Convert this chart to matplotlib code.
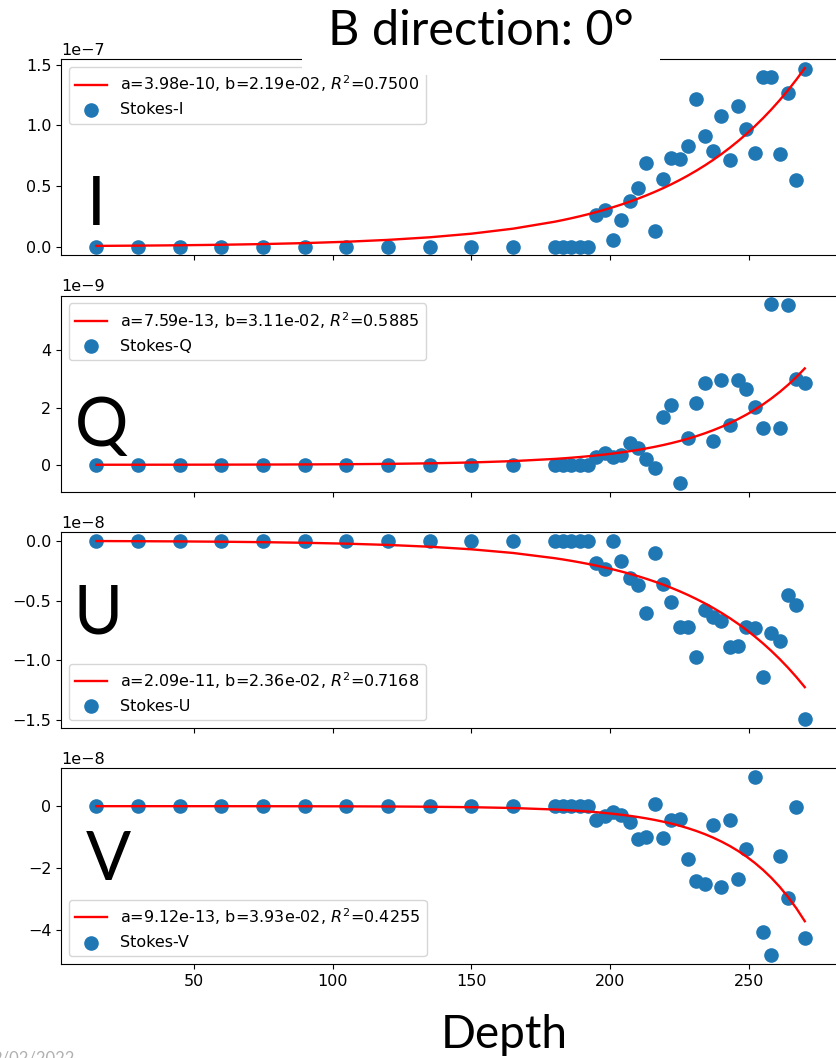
import numpy as np
import matplotlib
matplotlib.use("Agg")
import matplotlib.pyplot as plt
from matplotlib.patches import Rectangle

# depths (same for all four Stokes parameters)
depth = [15, 30, 45, 60, 75, 90, 105, 120, 135, 150, 165,
         180, 183, 186, 189, 192, 195, 198, 201, 204, 207, 210, 213, 216,
         219, 222, 225, 228, 231, 234, 237, 240, 243, 246, 249, 252, 255,
         258, 261, 264, 267, 270]

zeros_head = [0.0] * 16  # 15..192

stokes_i = zeros_head + [0.26, 0.30, 0.055, 0.22, 0.38, 0.48, 0.69, 0.13, 0.56,
                         0.73, 0.72, 0.83, 1.22, 0.91, 0.79, 1.08, 0.715, 1.16,
                         0.97, 0.77, 1.40, 1.40, 0.76, 1.27, 0.55, 1.465]
stokes_q = zeros_head + [0.28, 0.42, 0.26, 0.34, 0.77, 0.57, 0.20, -0.10, 1.67,
                         2.08, -0.63, 0.92, 2.15, 2.86, 0.84, 2.95, 1.38, 2.95,
                         2.63, 2.02, 1.27, 5.60, 1.27, 5.57, 3.01, 2.84]
stokes_u = zeros_head + [-0.19, -0.24, 0.0, -0.17, -0.315, -0.37, -0.60, -0.105,
                         -0.36, -0.515, -0.72, -0.725, -0.97, -0.575, -0.64, -0.67,
                         -0.89, -0.88, -0.72, -0.73, -1.14, -0.775, -0.84, -0.455,
                         -0.54, -1.49]
stokes_v = zeros_head + [-0.43, -0.32, -0.18, -0.29, -0.52, -1.07, -0.98, 0.06,
                         -1.04, -0.43, -0.42, -1.70, -2.40, -2.51, -0.61, -2.61,
                         -0.43, -2.34, -1.39, 0.94, -4.05, -4.80, -1.59, -2.96,
                         -0.04, -4.24]

scales = [1e-7, 1e-9, 1e-8, 1e-8]
names = ["I", "Q", "U", "V"]
series = [stokes_i, stokes_q, stokes_u, stokes_v]

# exponential fit y = sign * a * exp(b * depth)
fit_a = [3.98e-10, 7.59e-13, 2.09e-11, 9.12e-13]
fit_b = [2.19e-02, 3.11e-02, 2.36e-02, 3.93e-02]
fit_r2 = [0.7500, 0.5885, 0.7168, 0.4255]
fit_sign = [1, 1, -1, -1]
legend_loc = ["upper left", "upper left", "lower left", "lower left"]

plt.rcParams["font.size"] = 11.5

W, H = 836, 1058
fig = plt.figure(figsize=(W / 100, H / 100), dpi=100)
axes = fig.subplots(4, 1, sharex=True)
fig.subplots_adjust(left=0.073, right=1.005, top=0.944, bottom=0.0886, hspace=0.204)

x = np.array(depth)
for k, ax in enumerate(axes):
    y = np.array(series[k]) * scales[k]
    fit = fit_sign[k] * fit_a[k] * np.exp(fit_b[k] * x)
    lab = "a=%.2e, b=%.2e, $R^2$=%.4f" % (fit_a[k], fit_b[k], fit_r2[k])
    ax.plot(x, fit, color="red", lw=1.7, label=lab)
    ax.scatter(x, y, s=90, color="#1f77b4", label="Stokes-" + names[k])
    ax.legend(loc=legend_loc[k])

# big panel letters (pixel positions of baseline centre)
letter_pos = [(96, 225), (102, 446), (98, 633), (108, 880)]
for name, (px, py) in zip(names, letter_pos):
    fig.text(px / W, 1 - py / H, name, fontsize=48, family="Lato",
             ha="center", va="baseline")

# white box behind the slide title
fig.add_artist(Rectangle((302 / W, 1 - 75 / H), (660 - 302) / W, 75 / H,
                         transform=fig.transFigure, facecolor="white",
                         edgecolor="none", zorder=5))
fig.text(481 / W, 1 - 45 / H, "B direction: 0°", fontsize=35, family="Lato",
         ha="center", va="baseline", zorder=6)
fig.text(504 / W, 1 - 1048 / H, "Depth", fontsize=33, family="Lato",
         ha="center", va="baseline")
fig.text(75 / W, 1 - 1051 / H, "2/02/2022", fontsize=12, family="Lato",
         color="#b0b0b0", ha="right", va="top")

fig.savefig("out.png", dpi=100)
